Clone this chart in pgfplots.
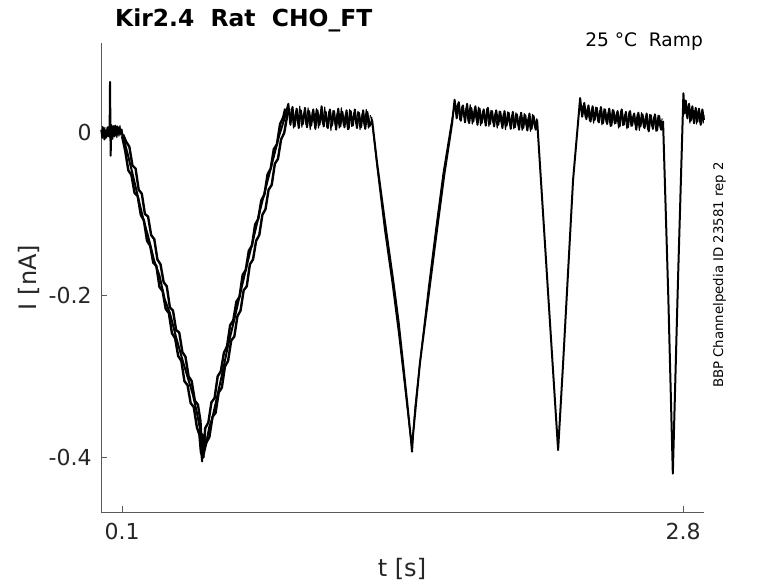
\documentclass[border=0pt]{standalone}
\usepackage{fontspec}
\setmainfont{DejaVu Sans}
\usepackage{pgfplots}
\pgfplotsset{compat=1.18}
\definecolor{axgray}{gray}{0.35}
\definecolor{txtgray}{gray}{0.15}
\begin{document}
\begin{tikzpicture}
\path (0pt,0pt) rectangle (778pt,583pt);
\begin{axis}[
  at={(101.3pt,70.7pt)}, anchor=south west,
  scale only axis, width=602.7pt, height=469.6pt,
  xmin=0, xmax=2.9, ymin=-0.4677, ymax=0.1113,
  axis x line*=bottom, axis y line*=left,
  axis line style={-, draw=axgray, line width=0.9pt},
  tick align=inside, major tick length=6pt,
  tick style={draw=axgray, line width=0.8pt},
  xtick={0.1,2.8}, xticklabels={0.1,2.8},
  ytick={-0.4,-0.2,0}, yticklabels={-0.4,-0.2,0},
  /pgf/number format/assume math mode=true,
  ticklabel style={font=\fontsize{22}{26}\selectfont, text=txtgray},
  xticklabel style={inner sep=0pt, anchor=north, yshift=-10.7pt},
  yticklabel style={inner sep=0pt, anchor=east, xshift=-9.5pt},
  clip=false,
]
% main trace
\addplot[black, line width=2pt, line join=round] table {
t I
0.000 0.004
0.005 -0.006
0.010 0.006
0.015 -0.008
0.020 0.003
0.025 -0.005
0.030 0.007
0.035 -0.004
0.040 0.002
0.042 0.063
0.045 -0.028
0.048 0.010
0.052 -0.006
0.057 0.008
0.062 -0.004
0.067 0.009
0.072 -0.003
0.077 0.008
0.082 -0.002
0.087 0.007
0.092 -0.001
0.097 0.004
0.100 0.000
0.125 -0.024
0.150 -0.050
0.172 -0.074
0.200 -0.104
0.228 -0.130
0.254 -0.157
0.280 -0.176
0.305 -0.205
0.330 -0.222
0.360 -0.252
0.393 -0.282
0.420 -0.305
0.441 -0.323
0.460 -0.345
0.475 -0.365
0.480 -0.392
0.485 -0.405
0.489 -0.380
0.492 -0.400
0.496 -0.376
0.505 -0.382
0.520 -0.362
0.533 -0.353
0.560 -0.322
0.585 -0.293
0.610 -0.262
0.640 -0.230
0.670 -0.196
0.706 -0.157
0.735 -0.127
0.764 -0.095
0.795 -0.064
0.826 -0.033
0.855 -0.004
0.884 0.020
0.900 0.036
0.910 0.010
0.920 0.032
0.930 0.008
0.940 0.030
0.950 0.006
0.960 0.028
0.970 0.011
0.980 0.031
0.990 0.007
1.000 0.027
1.010 0.009
1.020 0.029
1.030 0.005
1.040 0.028
1.050 0.010
1.060 0.033
1.070 0.008
1.080 0.026
1.090 0.006
1.100 0.029
1.110 0.009
1.120 0.027
1.130 0.004
1.140 0.030
1.150 0.008
1.160 0.026
1.170 0.007
1.180 0.028
1.190 0.005
1.200 0.027
1.210 0.009
1.220 0.029
1.230 0.006
1.240 0.025
1.250 0.007
1.260 0.028
1.270 0.005
1.280 0.026
1.290 0.008
1.303 0.016
1.327 -0.037
1.365 -0.110
1.404 -0.181
1.430 -0.232
1.452 -0.284
1.475 -0.340
1.490 -0.378
1.495 -0.393
1.500 -0.372
1.533 -0.284
1.575 -0.200
1.615 -0.120
1.650 -0.052
1.688 0.012
1.700 0.041
1.710 0.018
1.720 0.038
1.730 0.015
1.740 0.034
1.750 0.013
1.760 0.036
1.770 0.012
1.780 0.031
1.790 0.014
1.800 0.033
1.810 0.010
1.820 0.030
1.830 0.012
1.840 0.029
1.850 0.009
1.860 0.031
1.870 0.011
1.880 0.027
1.890 0.008
1.900 0.028
1.910 0.010
1.920 0.026
1.930 0.006
1.940 0.027
1.950 0.009
1.960 0.025
1.970 0.005
1.980 0.026
1.990 0.007
2.000 0.023
2.010 0.004
2.020 0.025
2.030 0.006
2.040 0.022
2.050 0.003
2.060 0.024
2.070 0.005
2.080 0.021
2.090 0.004
2.097 0.016
2.148 -0.190
2.198 -0.391
2.222 -0.284
2.270 -0.058
2.304 0.043
2.314 0.020
2.324 0.037
2.334 0.017
2.344 0.034
2.354 0.014
2.364 0.033
2.374 0.016
2.384 0.031
2.394 0.013
2.404 0.032
2.414 0.012
2.424 0.029
2.434 0.011
2.444 0.030
2.454 0.009
2.464 0.028
2.474 0.012
2.484 0.027
2.494 0.008
2.504 0.029
2.514 0.010
2.524 0.026
2.534 0.007
2.544 0.027
2.554 0.009
2.564 0.024
2.574 0.004
2.584 0.025
2.594 0.008
2.604 0.023
2.614 0.006
2.624 0.024
2.634 0.002
2.644 0.022
2.654 0.005
2.664 0.023
2.674 0.003
2.684 0.021
2.694 0.004
2.703 0.014
2.728 -0.200
2.750 -0.420
2.775 -0.180
2.801 0.049
2.806 0.024
2.812 0.040
2.820 0.018
2.828 0.036
2.836 0.015
2.844 0.033
2.852 0.012
2.860 0.031
2.868 0.014
2.876 0.030
2.884 0.010
2.892 0.029
2.900 0.016
};
% extra sweeps, first V
\addplot[black, line width=2.4pt, line join=round] table {
t I
0.100 -0.004
0.115 -0.022
0.130 -0.046
0.145 -0.052
0.160 -0.074
0.175 -0.078
0.190 -0.101
0.205 -0.108
0.220 -0.133
0.235 -0.139
0.250 -0.160
0.265 -0.164
0.280 -0.190
0.295 -0.195
0.310 -0.217
0.325 -0.222
0.340 -0.247
0.355 -0.253
0.370 -0.275
0.385 -0.281
0.400 -0.306
0.415 -0.311
0.430 -0.333
0.445 -0.338
0.460 -0.363
0.472 -0.372
0.480 -0.395
0.485 -0.383
0.490 -0.400
0.500 -0.364
0.515 -0.357
0.530 -0.332
0.545 -0.327
0.560 -0.300
0.575 -0.294
0.590 -0.271
0.605 -0.263
0.620 -0.237
0.635 -0.231
0.650 -0.208
0.665 -0.202
0.680 -0.175
0.695 -0.169
0.710 -0.145
0.725 -0.139
0.740 -0.113
0.755 -0.106
0.770 -0.083
0.785 -0.076
0.800 -0.051
0.815 -0.044
0.830 -0.020
0.845 -0.014
0.860 0.011
0.875 0.019
0.885 0.030
};
\addplot[black, line width=2.4pt, line join=round] table {
t I
0.105 -0.002
0.120 -0.011
0.135 -0.017
0.150 -0.040
0.165 -0.044
0.180 -0.070
0.195 -0.075
0.210 -0.100
0.225 -0.103
0.240 -0.126
0.255 -0.131
0.270 -0.156
0.285 -0.162
0.300 -0.184
0.315 -0.189
0.330 -0.215
0.345 -0.219
0.360 -0.243
0.375 -0.246
0.390 -0.270
0.405 -0.276
0.420 -0.300
0.435 -0.306
0.450 -0.330
0.465 -0.335
0.477 -0.355
0.483 -0.385
0.488 -0.372
0.493 -0.395
0.505 -0.382
0.520 -0.375
0.535 -0.350
0.550 -0.345
0.565 -0.320
0.580 -0.314
0.595 -0.288
0.610 -0.281
0.625 -0.256
0.640 -0.251
0.655 -0.226
0.670 -0.219
0.685 -0.194
0.700 -0.189
0.715 -0.162
0.730 -0.156
0.745 -0.133
0.760 -0.126
0.775 -0.101
0.790 -0.094
0.805 -0.070
0.820 -0.064
0.835 -0.038
0.850 -0.032
0.865 -0.008
0.880 0.000
0.895 0.022
0.905 0.030
};
% extra sweep, second V
\addplot[black, line width=1.4pt, line join=round] table {
t I
1.300 0.020
1.330 -0.048
1.365 -0.122
1.400 -0.185
1.430 -0.245
1.455 -0.300
1.478 -0.352
1.492 -0.383
1.498 -0.380
1.510 -0.338
1.540 -0.268
1.575 -0.190
1.610 -0.118
1.645 -0.050
1.680 0.005
1.698 0.032
};
% further sweeps on the holding levels
\addplot[black, line width=1pt, line join=round] table {
t I
0.002 -0.003
0.007 0.008
0.012 -0.005
0.017 0.007
0.022 -0.007
0.027 0.005
0.032 -0.003
0.037 0.008
0.043 -0.010
0.050 0.006
0.055 -0.008
0.060 0.009
0.065 -0.005
0.070 0.006
0.075 -0.006
0.080 0.007
0.085 -0.004
0.090 0.009
0.095 -0.003
0.100 0.005
};
\addplot[black, line width=1pt, line join=round] table {
t I
0.905 0.012
0.915 0.030
0.925 0.006
0.935 0.027
0.945 0.011
0.955 0.033
0.965 0.007
0.975 0.025
0.985 0.010
0.995 0.031
1.005 0.004
1.015 0.026
1.025 0.012
1.035 0.030
1.045 0.006
1.055 0.024
1.065 0.011
1.075 0.032
1.085 0.007
1.095 0.027
1.105 0.003
1.115 0.028
1.125 0.010
1.135 0.025
1.145 0.006
1.155 0.031
1.165 0.009
1.175 0.024
1.185 0.004
1.195 0.029
1.205 0.008
1.215 0.025
1.225 0.011
1.235 0.027
1.245 0.004
1.255 0.024
1.265 0.009
1.275 0.029
1.285 0.006
1.295 0.022
};
\addplot[black, line width=1pt, line join=round] table {
t I
1.705 0.030
1.715 0.036
1.725 0.016
1.735 0.033
1.745 0.020
1.755 0.031
1.765 0.014
1.775 0.035
1.785 0.011
1.795 0.030
1.805 0.015
1.815 0.032
1.825 0.009
1.835 0.027
1.845 0.013
1.855 0.030
1.865 0.008
1.875 0.028
1.885 0.012
1.895 0.025
1.905 0.006
1.915 0.027
1.925 0.011
1.935 0.024
1.945 0.004
1.955 0.026
1.965 0.010
1.975 0.022
1.985 0.005
1.995 0.025
2.005 0.009
2.015 0.021
2.025 0.003
2.035 0.024
2.045 0.008
2.055 0.020
2.065 0.002
2.075 0.023
2.085 0.007
2.095 0.018
};
\addplot[black, line width=1pt, line join=round] table {
t I
2.309 0.030
2.319 0.034
2.329 0.019
2.339 0.031
2.349 0.015
2.359 0.030
2.369 0.012
2.379 0.032
2.389 0.014
2.399 0.028
2.409 0.010
2.419 0.030
2.429 0.013
2.439 0.026
2.449 0.008
2.459 0.029
2.469 0.011
2.479 0.025
2.489 0.006
2.499 0.027
2.509 0.009
2.519 0.023
2.529 0.005
2.539 0.026
2.549 0.008
2.559 0.022
2.569 0.010
2.579 0.023
2.589 0.003
2.599 0.025
2.609 0.007
2.619 0.021
2.629 0.004
2.639 0.023
2.649 0.008
2.659 0.020
2.669 0.002
2.679 0.022
2.689 0.006
2.699 0.018
};
\addplot[black, line width=1pt, line join=round] table {
t I
2.803 0.030
2.809 0.038
2.816 0.020
2.824 0.034
2.832 0.012
2.840 0.031
2.848 0.016
2.856 0.028
2.864 0.011
2.872 0.027
2.880 0.013
2.888 0.026
2.896 0.012
2.900 0.022
};
\end{axis}
% texts
\node[anchor=base west, inner sep=0pt, font=\fontsize{23.4}{28}\selectfont\bfseries] at (115pt,556pt) {Kir2.4~~Rat~~CHO\_FT};
\node[anchor=base east, inner sep=0pt, font=\fontsize{18.6}{22}\selectfont, text=black] at (703pt,536pt) {25 °C~~Ramp};
\node[anchor=base, inner sep=0pt, rotate=90, font=\fontsize{13.3}{16}\selectfont] at (723pt,308pt) {BBP Channelpedia ID 23581 rep 2};
\node[anchor=base, inner sep=0pt, font=\fontsize{24}{29}\selectfont, text=txtgray] at (402pt,7pt) {t [s]};
\node[anchor=base, inner sep=0pt, rotate=90, font=\fontsize{24}{29}\selectfont, text=txtgray] at (36pt,305.5pt) {I [nA]};
\end{tikzpicture}
\end{document}
